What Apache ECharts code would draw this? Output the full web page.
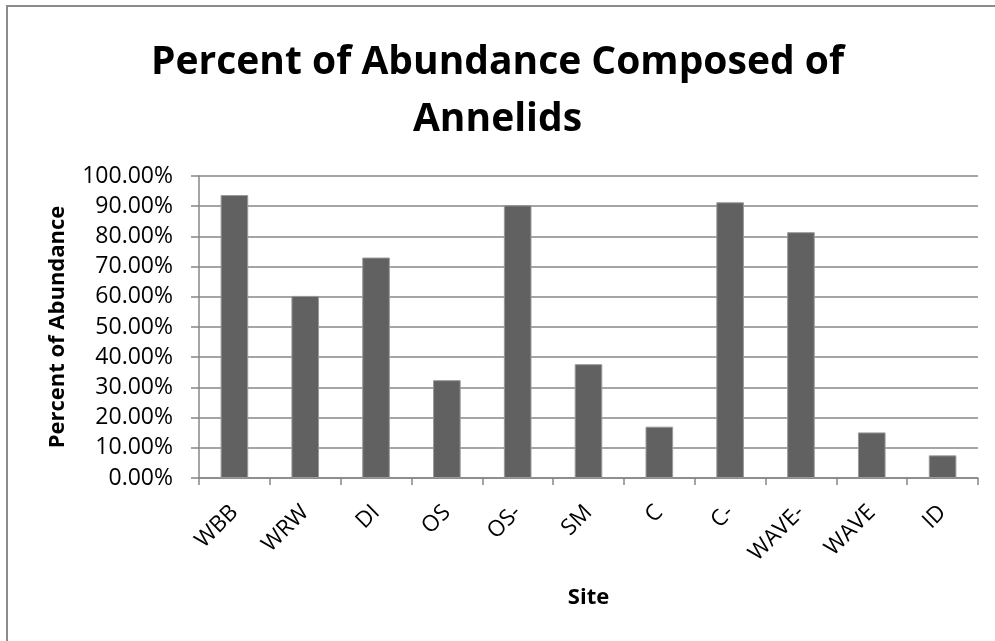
<!DOCTYPE html>
<html><head><meta charset="utf-8">
<script src="https://cdn.jsdelivr.net/npm/echarts@6/dist/echarts.min.js"></script>
<style>html,body{margin:0;padding:0;background:#fff}#c{width:995px;height:641px}</style>
</head><body><div id="c"></div>
<script>
const categories = ['WBB','WRW','DI','OS','OS-','SM','C','C-','WAVE-','WAVE','ID'];
const values = [0.937, 0.603, 0.730, 0.324, 0.903, 0.377, 0.170, 0.913, 0.814, 0.151, 0.075];
const yTicks = {min: 0, max: 1, interval: 0.1};
const font = '"Open Sans", Lato, sans-serif';
const chart = echarts.init(document.getElementById('c'), null, {renderer: 'canvas'});
chart.setOption({
  animation: false,
  backgroundColor: '#fff',
  title: {
    text: 'Percent of Abundance Composed of\nAnnelids',
    left: 'center', top: 29,
    textStyle: {fontFamily: font, fontWeight: 'bold', fontSize: 39, color: '#000', lineHeight: 57}
  },
  graphic: [{type: 'rect', shape: {x: 7, y: 6, width: 1200, height: 900}, style: {fill: 'none', stroke: '#8c8c8c', lineWidth: 2}, silent: true}],
  grid: {left: 199, right: 17, top: 176, bottom: 163, containLabel: false},
  xAxis: {
    type: 'category', data: categories,
    name: 'Site', nameLocation: 'middle', nameGap: 109,
    nameTextStyle: {fontFamily: font, fontWeight: 'bold', fontSize: 22, color: '#000'},
    axisLine: {lineStyle: {color: '#878787', width: 1.5}},
    axisTick: {show: true, length: 7, inside: false, lineStyle: {color: '#878787', width: 1.5}},
    axisLabel: {rotate: 45, fontFamily: font, fontSize: 22.5, color: '#000', margin: 31, interval: 0}
  },
  yAxis: {
    type: 'value', min: yTicks.min, max: yTicks.max, interval: yTicks.interval,
    name: 'Percent of Abundance', nameLocation: 'middle', nameGap: 130, nameRotate: 90,
    nameTextStyle: {fontFamily: font, fontWeight: 'bold', fontSize: 22, color: '#000'},
    axisLine: {show: true, lineStyle: {color: '#878787', width: 1.5}},
    axisTick: {show: true, length: 8, inside: false, lineStyle: {color: '#878787', width: 1.5}},
    splitLine: {show: true, lineStyle: {color: '#878787', width: 1.5}},
    axisLabel: {fontFamily: font, fontSize: 23, color: '#000', margin: 26,
      formatter: v => (v * 100).toFixed(2) + '%'}
  },
  series: [{
    type: 'bar', data: values, barWidth: '39%',
    itemStyle: {color: '#616161', borderColor: '#9a9a9a', borderWidth: 1}
  }]
});
</script></body></html>
